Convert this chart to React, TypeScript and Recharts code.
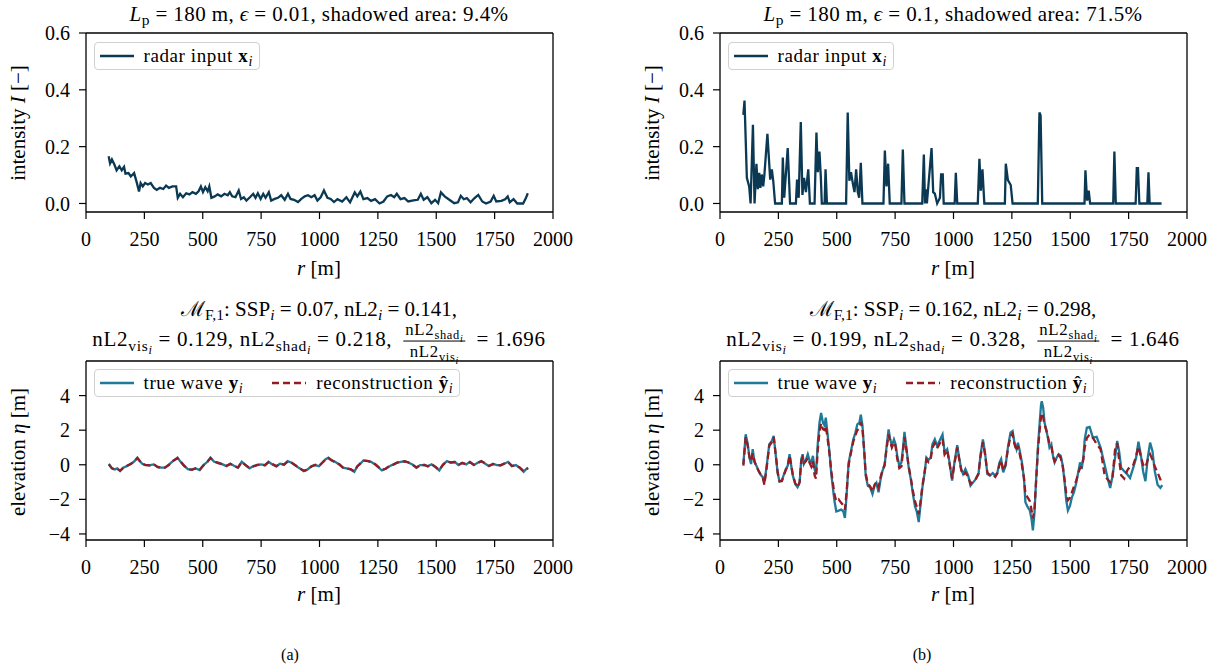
import React from 'react'
import { LineChart, Line, XAxis, YAxis, ReferenceLine } from 'recharts'

const R_TICKS = [0, 250, 500, 750, 1000, 1250, 1500, 1750, 2000]
const INTENSITY_TICKS = [0, 0.2, 0.4, 0.6]
const ELEVATION_TICKS = [-4, -2, 0, 2, 4]

// (a) radar input, eps = 0.01
const radarRA = [
  97, 103, 111, 121, 131, 143, 153, 163, 169, 182, 192, 206, 217, 227, 234, 243, 253, 265, 277, 291,
  303, 317, 331, 343, 355, 370, 386, 393, 403, 415, 429, 443, 456, 471, 482, 492, 501, 511, 521, 528,
  537, 551, 564, 579, 593, 607, 616, 626, 640, 654, 664, 676, 687, 702, 716, 726, 736, 748, 759, 769,
  783, 793, 808, 822, 836, 851, 865, 876, 891, 908, 922, 937, 951, 965, 979, 991, 1005, 1019, 1034, 1048,
  1062, 1077, 1097, 1115, 1131, 1151, 1162, 1175, 1188, 1205, 1221, 1238, 1257, 1274, 1290, 1306, 1320, 1331, 1347, 1364,
  1380, 1402, 1421, 1434, 1446, 1462, 1479, 1495, 1508, 1520, 1536, 1556, 1577, 1593, 1605, 1618, 1631, 1647, 1664, 1680,
  1697, 1713, 1733, 1746, 1757, 1779, 1795, 1806, 1815, 1831, 1847, 1872, 1884, 1892,
]
const radarIA = [
  0.166, 0.141, 0.155, 0.138, 0.117, 0.131, 0.117, 0.129, 0.105, 0.107, 0.095, 0.107, 0.075, 0.042, 0.072, 0.06, 0.072, 0.067, 0.072, 0.055,
  0.048, 0.055, 0.051, 0.063, 0.055, 0.06, 0.06, 0.02, 0.034, 0.022, 0.036, 0.032, 0.04, 0.034, 0.043, 0.06, 0.04, 0.057, 0.043, 0.06,
  0.02, 0.025, 0.032, 0.025, 0.034, 0.029, 0.04, 0.025, 0.022, 0.046, 0.016, 0.022, 0.01, 0.022, 0.034, 0.02, 0.036, 0.016, 0.034, 0.02,
  0.04, 0.01, 0.016, 0.02, 0.029, 0.013, 0.034, 0.016, 0.013, 0.005, 0.016, 0.025, 0.029, 0.022, 0.029, 0.01, 0.022, 0.046, 0.02, 0.016,
  0.005, 0.015, 0.007, 0.022, 0.004, 0.039, 0.025, 0.042, 0.015, 0.019, 0.009, 0.015, 0.0, 0.007, 0.025, 0.03, 0.022, 0.034, 0.015, 0.019,
  0.007, 0.011, 0.013, 0.034, 0.013, 0.022, 0.001, 0.013, 0.001, 0.039, 0.025, 0.013, 0.001, 0.004, 0.027, 0.015, 0.019, 0.004, 0.019, 0.03,
  0.007, 0.0, 0.007, 0.027, 0.007, 0.009, 0.015, 0.025, 0.004, 0.015, 0.0, 0.0, 0.019, 0.036,
]

// (b) radar input, eps = 0.1
const radarRB = [
  100, 105, 115, 125, 131, 141, 148, 156, 162, 168, 173, 179, 185, 190, 203, 215, 222, 228, 236, 265,
  269, 275, 290, 300, 325, 330, 337, 346, 353, 360, 368, 378, 385, 405, 413, 419, 426, 432, 436, 448,
  452, 458, 540, 547, 554, 561, 569, 576, 583, 590, 596, 603, 610, 700, 706, 713, 720, 727, 777, 783,
  790, 866, 873, 878, 882, 886, 906, 913, 920, 930, 942, 947, 954, 958, 1005, 1010, 1016, 1104, 1111, 1117,
  1124, 1132, 1220, 1224, 1233, 1245, 1253, 1361, 1368, 1373, 1380, 1561, 1565, 1572, 1579, 1585, 1684, 1689, 1695, 1780,
  1785, 1790, 1796, 1830, 1835, 1840, 1891,
]
const radarIB = [
  0.312, 0.362, 0.09, 0.06, 0, 0.277, 0, 0.14, 0.05, 0.108, 0.055, 0.102, 0.06, 0.1, 0.245, 0.084, 0.12, 0.08, 0, 0,
  0.162, 0.02, 0.195, 0, 0, 0.084, 0.02, 0.287, 0.03, 0.09, 0.04, 0.12, 0, 0, 0.25, 0.11, 0.183, 0.09, 0, 0,
  0.12, 0, 0, 0.32, 0.08, 0.11, 0.07, 0.04, 0.12, 0.04, 0.02, 0.143, 0, 0, 0.186, 0.06, 0.14, 0, 0, 0.19,
  0, 0, 0.172, 0, 0.05, 0, 0.195, 0.04, 0.035, 0, 0.02, 0.102, 0.102, 0, 0, 0.108, 0, 0, 0.157, 0.045,
  0.12, 0, 0, 0.14, 0.082, 0.065, 0, 0, 0.32, 0.31, 0, 0, 0.117, 0.01, 0.045, 0, 0, 0.183, 0, 0,
  0.124, 0.124, 0, 0, 0.11, 0, 0,
]

// (a) wave and reconstruction
const waveRA = [
  98, 110, 123, 134, 146, 159, 175, 192, 205, 220, 228, 241, 254, 274, 290, 307, 323, 339, 356, 372,
  392, 405, 421, 438, 454, 470, 487, 503, 520, 533, 549, 566, 585, 602, 618, 638, 651, 667, 684, 700,
  716, 733, 749, 766, 782, 798, 815, 831, 848, 864, 880, 900, 916, 933, 949, 966, 982, 998, 1011, 1025,
  1038, 1051, 1067, 1084, 1100, 1116, 1133, 1149, 1162, 1175, 1188, 1205, 1221, 1238, 1254, 1267, 1284, 1300, 1316, 1333,
  1349, 1366, 1382, 1398, 1415, 1431, 1448, 1464, 1480, 1497, 1513, 1529, 1546, 1562, 1579, 1595, 1611, 1628, 1644, 1661,
  1677, 1693, 1710, 1726, 1743, 1759, 1775, 1792, 1808, 1824, 1841, 1857, 1874, 1884, 1893,
]
const trueWaveA = [
  0.06, -0.21, -0.27, -0.21, -0.37, -0.17, -0.08, 0.06, 0.17, 0.41, 0.25, 0.06, -0.02, -0.02, 0.02, -0.14, -0.17, -0.17, 0.02, 0.21,
  0.41, 0.17, -0.08, -0.27, -0.27, -0.21, -0.31, -0.02, 0.17, 0.41, 0.17, 0.12, 0.02, -0.08, 0.06, -0.08, -0.17, 0.17, -0.02, -0.21,
  -0.08, -0.02, 0.02, -0.02, 0.17, 0.02, -0.08, 0.06, 0.02, 0.21, 0.12, -0.08, -0.21, -0.37, -0.27, -0.08, -0.02, -0.08, 0.12, 0.31,
  0.41, 0.25, 0.17, 0.02, -0.17, -0.21, -0.27, -0.41, -0.08, 0.06, 0.25, 0.21, 0.17, 0.02, -0.17, -0.33, -0.21, -0.08, 0.02, 0.12,
  0.17, 0.21, 0.12, 0.02, -0.17, -0.02, -0.02, -0.08, 0.02, -0.14, -0.33, 0.02, 0.21, 0.12, 0.17, -0.02, 0.12, 0.02, 0.17, -0.02,
  0.12, 0.21, 0.06, -0.08, 0.06, -0.02, -0.02, 0.06, 0.17, -0.08, -0.02, -0.17, -0.41, -0.27, -0.17,
]
const reconA = [
  0.02, -0.18, -0.28, -0.24, -0.34, -0.19, -0.06, 0.04, 0.18, 0.38, 0.26, 0.05, 0.0, -0.04, 0.03, -0.12, -0.19, -0.15, 0.0, 0.22,
  0.38, 0.19, -0.06, -0.25, -0.29, -0.2, -0.28, -0.04, 0.18, 0.38, 0.19, 0.1, 0.03, -0.06, 0.05, -0.1, -0.15, 0.15, -0.03, -0.18,
  -0.1, -0.01, 0.03, -0.04, 0.15, 0.04, -0.09, 0.07, 0.0, 0.19, 0.13, -0.06, -0.22, -0.34, -0.28, -0.1, 0.0, -0.06, 0.1, 0.29,
  0.38, 0.27, 0.15, 0.04, -0.15, -0.22, -0.25, -0.38, -0.1, 0.08, 0.24, 0.23, 0.15, 0.04, -0.15, -0.3, -0.23, -0.06, 0.0, 0.13,
  0.18, 0.2, 0.13, 0.0, -0.15, -0.04, 0.0, -0.1, 0.04, -0.12, -0.3, 0.0, 0.2, 0.14, 0.15, 0.0, 0.1, 0.04, 0.15, 0.0,
  0.1, 0.2, 0.08, -0.06, 0.04, 0.0, -0.04, 0.08, 0.15, -0.06, -0.04, -0.15, -0.36, -0.3, -0.2,
]

// (b) wave and reconstruction
const waveRB = [
  100, 110, 119, 126, 133, 140, 148, 156, 165, 175, 184, 190, 200, 211, 222, 230, 239, 247, 255, 265,
  274, 282, 290, 298, 305, 312, 322, 332, 341, 348, 354, 359, 368, 376, 384, 391, 398, 405, 411, 419,
  426, 433, 441, 448, 453, 460, 469, 476, 484, 490, 498, 508, 519, 528, 535, 542, 551, 561, 571, 580,
  588, 597, 603, 610, 617, 624, 633, 643, 653, 662, 670, 679, 688, 696, 705, 713, 722, 729, 736, 745,
  752, 759, 768, 777, 784, 790, 799, 808, 817, 826, 835, 843, 851, 859, 867, 876, 884, 893, 902, 910,
  920, 930, 940, 953, 962, 973, 983, 994, 1004, 1016, 1024, 1033, 1041, 1051, 1063, 1073, 1084, 1096, 1107, 1116,
  1126, 1135, 1145, 1156, 1168, 1179, 1188, 1197, 1204, 1213, 1223, 1233, 1244, 1253, 1261, 1270, 1276, 1284, 1293, 1302,
  1308, 1318, 1327, 1334, 1340, 1347, 1354, 1362, 1369, 1375, 1378, 1384, 1390, 1397, 1404, 1411, 1419, 1426, 1433, 1442,
  1450, 1459, 1468, 1476, 1483, 1490, 1499, 1507, 1516, 1526, 1534, 1542, 1549, 1556, 1562, 1571, 1583, 1597, 1613, 1630,
  1647, 1660, 1671, 1681, 1692, 1701, 1709, 1718, 1731, 1745, 1756, 1770, 1782, 1792, 1802, 1812, 1822, 1832, 1842, 1852,
  1862, 1874, 1886, 1894,
]
const trueWaveB = [
  0.04, 1.76, 1.19, 0.42, 0.04, 0.9, 0.14, -0.06, -0.34, -0.59, -0.73, -1.05, -0.06, 1.19, 1.38, 1.67, 0.52, -0.48, -0.98, -0.92,
  -0.54, -0.25, -0.06, 0.61, -0.06, -0.63, -1.11, -1.3, -1.02, 0.33, 0.61, 0.04, 0.29, 0.61, 0.23, 0.14, 0.52, -0.25, -0.54, 1.28,
  2.43, 3.0, 2.43, 2.28, 2.72, 1.86, 0.71, -0.44, -1.4, -2.07, -2.7, -2.65, -2.59, -2.7, -3.08, -1.78, 0.14, 0.8, 1.47, 1.86,
  2.34, 2.43, 2.9, 2.28, 0.9, -0.63, -1.21, -1.3, -1.69, -1.21, -1.05, -1.59, -0.82, -0.34, -0.06, 1.0, 2.05, 1.47, 1.09, 1.47,
  1.19, 0.52, -0.06, 0.14, 1.0, 1.9, 0.9, -0.15, -0.82, -1.68, -2.4, -2.72, -3.31, -2.3, -1.3, -0.5, 0.42, 0.28, 0.4, 1.19,
  1.47, 1.09, 1.38, 1.76, 0.71, 0.9, 0.14, -0.92, 0.14, 1.13, 0.42, -0.25, -0.54, -0.25, -0.63, -1.21, -1.02, -0.82, -0.54, 0.61,
  1.47, 0.71, -0.54, -0.63, -0.48, -0.63, -0.44, 0.14, 0.33, -0.44, -0.06, 1.0, 1.86, 1.95, 1.28, 0.9, 1.28, 0.8, 0.14, -0.82,
  -2.16, -2.45, -2.64, -3.12, -3.79, -2.74, -0.82, 1.09, 2.43, 3.49, 3.68, 3.3, 2.43, 2.05, 1.57, 1.0, 1.19, 0.52, 0.14, 0.42,
  0.61, 0.52, -0.06, -1.02, -2.07, -2.64, -2.36, -1.88, -1.59, -1.02, -0.44, 0.14, -0.25, 0.42, 1.47, 2.14, 2.19, 1.57, 1.61, 0.99,
  0.02, -0.76, -1.34, -0.66, 0.41, 1.38, 0.8, -0.17, -0.37, -0.56, -0.76, -0.17, 0.41, 1.34, 0.6, -0.37, -0.95, 0.41, 1.28, 0.8,
  -0.37, -1.15, -1.34, -1.18,
]
const reconB = [
  -0.05, 1.6, 1.05, 0.45, 0.2, 0.65, 0.2, -0.1, -0.35, -0.6, -0.8, -1.15, -0.15, 1.1, 1.3, 1.6, 0.55, -0.45, -0.95, -0.95,
  -0.6, -0.3, -0.1, 0.55, 0.0, -0.6, -1.05, -1.3, -1.0, 0.2, 0.4, 0.1, 0.2, 0.4, 0.1, -0.1, 0.2, -0.6, -0.8, 0.9,
  1.9, 2.4, 2.05, 2.0, 2.25, 1.6, 0.6, -0.3, -1.1, -1.7, -2.1, -2.0, -2.2, -2.35, -2.6, -1.6, 0.0, 0.7, 1.35, 1.7,
  2.0, 2.1, 2.45, 2.1, 0.9, -0.5, -1.1, -1.25, -1.55, -1.15, -1.0, -1.3, -0.7, -0.3, 0.0, 0.9, 1.75, 1.35, 1.0, 1.3,
  1.05, 0.35, -0.2, -0.1, 0.8, 1.6, 0.8, -0.1, -0.75, -1.5, -2.1, -2.45, -2.85, -2.1, -1.2, -0.45, 0.3, 0.15, 0.3, 1.0,
  1.25, 0.95, 1.2, 1.5, 0.6, 0.85, 0.05, -0.8, 0.05, 1.0, 0.35, -0.3, -0.6, -0.45, -0.7, -1.1, -0.95, -0.8, -0.5, 0.5,
  1.3, 0.6, -0.45, -0.6, -0.55, -0.7, -0.5, 0.0, 0.25, -0.35, 0.0, 0.9, 1.65, 1.8, 1.2, 0.8, 1.1, 0.6, 0.0, -0.8,
  -1.7, -1.9, -2.1, -2.6, -3.1, -2.5, -0.9, 0.9, 2.0, 2.8, 3.0, 2.75, 2.3, 2.0, 1.65, 1.2, 1.1, 0.5, 0.2, 0.4,
  0.55, 0.4, -0.1, -0.9, -1.7, -2.05, -1.9, -1.6, -1.25, -0.9, -0.5, -0.2, -0.1, 0.3, 1.0, 1.55, 1.75, 1.55, 1.2, 0.9,
  -0.6, -0.85, -1.0, -0.7, 0.9, 1.25, 0.3, -0.6, -0.8, -0.3, -0.1, 0.0, 0.5, 1.05, 0.5, 0.0, -0.15, 0.3, 0.6, 0.3,
  -0.1, -0.45, -0.85, -1.1,
]

const FONT = '"Liberation Serif", "DejaVu Serif", serif'
const NAVY = '#0b3954'
const TEAL = '#1f7a9a'
const RED = '#951c22'

const PLOT_W = 467
const PLOT_H = 179
const YAXIS_W = 80
const XAXIS_H = 50
const PAD_T = 16
const PAD_R = 32

const fmtIntensity = (v: number) => v.toFixed(1)
const fmtElevation = (v: number) => (v < 0 ? `\u2212${Math.abs(v)}` : `${v}`)

type Series = { key: string; color: string; dash?: string }

function Panel(props: {
  x: number
  y: number
  rows: Record<string, number>[]
  series: Series[]
  domain: [number, number]
  ticks: number[]
  fmt: (v: number) => string
}) {
  const { x, y, rows, series, domain, ticks, fmt } = props
  const tickStyle = { fill: '#000', fontSize: 20, fontFamily: FONT }
  const axisLine = { stroke: '#000', strokeWidth: 1.3 }
  const tickLine = { stroke: '#000', strokeWidth: 1.2 }
  return (
    <div style={{ position: 'absolute', left: x - YAXIS_W, top: y - PAD_T }}>
      <LineChart
        width={YAXIS_W + PLOT_W + PAD_R}
        height={PAD_T + PLOT_H + XAXIS_H}
        data={rows}
        margin={{ top: PAD_T, right: PAD_R, bottom: 0, left: 0 }}
      >
        <XAxis
          dataKey="r"
          type="number"
          domain={[0, 2000]}
          ticks={R_TICKS}
          interval={0}
          allowDataOverflow
          height={XAXIS_H}
          tickSize={7}
          tickMargin={13}
          axisLine={axisLine}
          tickLine={tickLine}
          tick={tickStyle}
        />
        <YAxis
          type="number"
          domain={domain}
          ticks={ticks}
          interval={0}
          allowDataOverflow
          width={YAXIS_W}
          tickSize={7}
          tickMargin={9}
          axisLine={axisLine}
          tickLine={tickLine}
          tick={tickStyle}
          tickFormatter={fmt}
        />
        {/* closing the frame on the top and right */}
        <ReferenceLine y={domain[1]} stroke="#000" strokeWidth={1.3} />
        <ReferenceLine x={2000} stroke="#000" strokeWidth={1.3} />
        {series.map((s) => (
          <Line
            key={s.key}
            dataKey={s.key}
            type="linear"
            stroke={s.color}
            strokeWidth={2.3}
            strokeDasharray={s.dash}
            dot={false}
            activeDot={false}
            isAnimationActive={false}
          />
        ))}
      </LineChart>
    </div>
  )
}

const Sub = ({ children, s = 0.74 }: { children: React.ReactNode; s?: number }) => (
  <span style={{ fontSize: `${s}em`, verticalAlign: '-0.3em', lineHeight: 0 }}>{children}</span>
)

function Txt(props: { x: number; y: number; size?: number; rotate?: boolean; ls?: number; children: React.ReactNode }) {
  const { x, y, size = 20, rotate, ls = 0, children } = props
  return (
    <div
      style={{
        position: 'absolute',
        left: x,
        top: y,
        transform: `translate(-50%, -50%)${rotate ? ' rotate(-90deg)' : ''}`,
        whiteSpace: 'nowrap',
        fontFamily: FONT,
        fontSize: size,
        letterSpacing: ls,
        lineHeight: 1,
        color: '#000',
      }}
    >
      {children}
    </div>
  )
}

function Frac({ num, den }: { num: React.ReactNode; den: React.ReactNode }) {
  return (
    <span
      style={{
        display: 'inline-flex',
        flexDirection: 'column',
        alignItems: 'center',
        verticalAlign: 'middle',
        fontSize: '0.8em',
        lineHeight: 1.1,
        margin: '0 0.3em',
      }}
    >
      <span style={{ borderBottom: '1px solid #000', padding: '0 2px 2px' }}>{num}</span>
      <span style={{ paddingTop: 1 }}>{den}</span>
    </span>
  )
}

type LegendItem = { color: string; dash?: string; label: React.ReactNode }

function LegendBox({ x, y, items }: { x: number; y: number; items: LegendItem[] }) {
  return (
    <div
      style={{
        position: 'absolute',
        left: x,
        top: y,
        height: 26,
        display: 'flex',
        alignItems: 'center',
        padding: '0 6px 0 5px',
        border: '1.5px solid #d0d0d0',
        borderRadius: 4,
        background: 'rgba(255,255,255,0.85)',
        fontFamily: FONT,
        fontSize: 19,
        letterSpacing: 0.6,
        whiteSpace: 'nowrap',
      }}
    >
      {items.map((it, i) => (
        <span key={i} style={{ display: 'flex', alignItems: 'center', marginLeft: i === 0 ? 0 : 29 }}>
          <svg width={34} height={10} style={{ marginRight: 10 }}>
            <line x1={0} y1={5} x2={34} y2={5} stroke={it.color} strokeWidth={2.3} strokeDasharray={it.dash} />
          </svg>
          <span>{it.label}</span>
        </span>
      ))}
    </div>
  )
}

const toRows = (r: number[], cols: Record<string, number[]>) =>
  r.map((rv, i) => {
    const row: Record<string, number> = { r: rv }
    Object.keys(cols).forEach((k) => (row[k] = cols[k][i]))
    return row
  })

const LEFT_X = 85.5
const RIGHT_X = 719.5
const TOP_Y = 33
const BOTTOM_Y = 361

export default function App() {
  const rowsA = toRows(radarRA, { I: radarIA })
  const rowsB = toRows(radarRB, { I: radarIB })
  const rowsWA = toRows(waveRA, { y: trueWaveA, yhat: reconA })
  const rowsWB = toRows(waveRB, { y: trueWaveB, yhat: reconB })
  const radarSeries: Series[] = [{ key: 'I', color: NAVY }]
  const waveSeries: Series[] = [
    { key: 'y', color: TEAL },
    { key: 'yhat', color: RED, dash: '7 4' },
  ]
  const radarLegend: LegendItem[] = [
    { color: NAVY, label: <>radar input <b>x</b><Sub><i>i</i></Sub></> },
  ]
  const waveLegend: LegendItem[] = [
    { color: TEAL, label: <>true wave <b>y</b><Sub><i>i</i></Sub></> },
    { color: RED, dash: '7 4', label: <>reconstruction <b>ŷ</b><Sub><i>i</i></Sub></> },
  ]
  const cx = PLOT_W / 2

  const nl2 = (word: string) => (
    <>
      nL2<Sub>{word}<Sub s={0.8}><i>i</i></Sub></Sub>
    </>
  )
  const line2 = (vis: string, shad: string, ratio: string) => (
    <>
      {nl2('vis')} = {vis}, {nl2('shad')} = {shad},{' '}
      <Frac num={nl2('shad')} den={nl2('vis')} /> = {ratio}
    </>
  )

  return (
    <div style={{ position: 'absolute', left: 0, top: 0, width: 1225, height: 667, background: '#fff', overflow: 'hidden' }}>
      <Panel x={LEFT_X} y={TOP_Y} rows={rowsA} series={radarSeries} domain={[-0.03, 0.6]} ticks={INTENSITY_TICKS} fmt={fmtIntensity} />
      <Panel x={RIGHT_X} y={TOP_Y} rows={rowsB} series={radarSeries} domain={[-0.03, 0.6]} ticks={INTENSITY_TICKS} fmt={fmtIntensity} />
      <Panel x={LEFT_X} y={BOTTOM_Y} rows={rowsWA} series={waveSeries} domain={[-4.35, 6]} ticks={ELEVATION_TICKS} fmt={fmtElevation} />
      <Panel x={RIGHT_X} y={BOTTOM_Y} rows={rowsWB} series={waveSeries} domain={[-4.35, 6]} ticks={ELEVATION_TICKS} fmt={fmtElevation} />

      <LegendBox x={LEFT_X + 8} y={TOP_Y + 8.5} items={radarLegend} />
      <LegendBox x={RIGHT_X + 8} y={TOP_Y + 8.5} items={radarLegend} />
      <LegendBox x={LEFT_X + 8} y={BOTTOM_Y + 8} items={waveLegend} />
      <LegendBox x={RIGHT_X + 8} y={BOTTOM_Y + 8} items={waveLegend} />

      <Txt x={LEFT_X + cx} y={14} size={21} ls={0.4}>
        <i>L</i><Sub>p</Sub> = 180 m, <i>ϵ</i> = 0.01,  shadowed area: 9.4%
      </Txt>
      <Txt x={RIGHT_X + cx} y={14} size={21} ls={0.4}>
        <i>L</i><Sub>p</Sub> = 180 m, <i>ϵ</i> = 0.1,  shadowed area: 71.5%
      </Txt>

      <Txt x={LEFT_X + cx} y={309} size={21}>
        ℳ<Sub>F,1</Sub>: SSP<Sub><i>i</i></Sub> = 0.07, nL2<Sub><i>i</i></Sub> = 0.141,
      </Txt>
      <Txt x={LEFT_X + cx} y={341} size={21} ls={0.7}>{line2('0.129', '0.218', '1.696')}</Txt>
      <Txt x={RIGHT_X + cx} y={309} size={21}>
        ℳ<Sub>F,1</Sub>: SSP<Sub><i>i</i></Sub> = 0.162, nL2<Sub><i>i</i></Sub> = 0.298,
      </Txt>
      <Txt x={RIGHT_X + cx} y={341} size={21} ls={0.7}>{line2('0.199', '0.328', '1.646')}</Txt>

      <Txt x={LEFT_X + cx} y={268} size={21}><i>r</i> [m]</Txt>
      <Txt x={RIGHT_X + cx} y={268} size={21}><i>r</i> [m]</Txt>
      <Txt x={LEFT_X + cx} y={594} size={21}><i>r</i> [m]</Txt>
      <Txt x={RIGHT_X + cx} y={594} size={21}><i>r</i> [m]</Txt>

      <Txt x={18} y={123} rotate size={21}>intensity <i>I</i> [−]</Txt>
      <Txt x={652} y={123} rotate size={21}>intensity <i>I</i> [−]</Txt>
      <Txt x={18} y={452} rotate size={21}>elevation <i>η</i> [m]</Txt>
      <Txt x={652} y={452} rotate size={21}>elevation <i>η</i> [m]</Txt>

      <Txt x={290} y={655} size={16}>(a)</Txt>
      <Txt x={922} y={655} size={16}>(b)</Txt>
    </div>
  )
}
